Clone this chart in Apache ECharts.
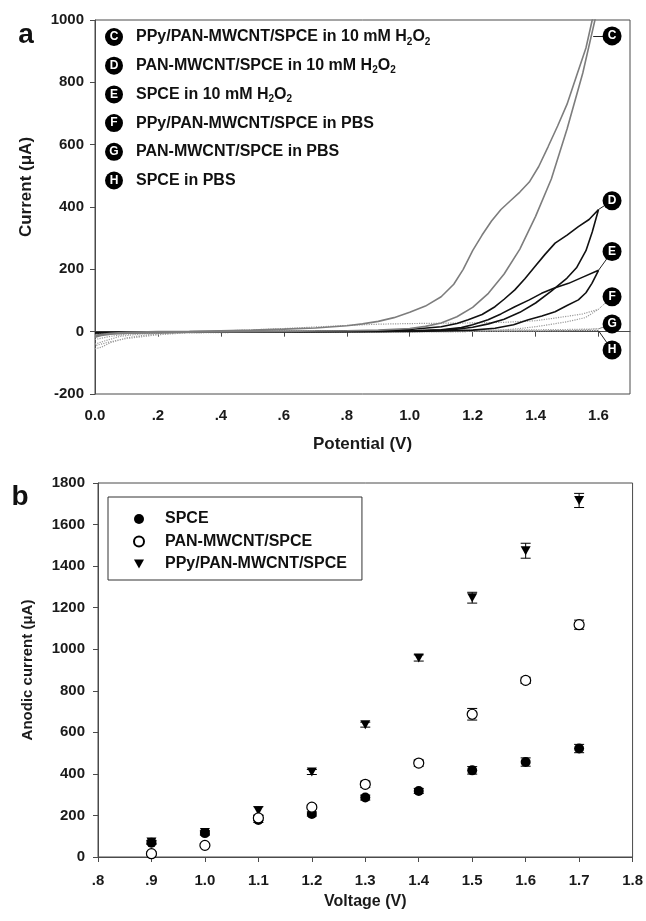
<!DOCTYPE html>
<html><head><meta charset="utf-8">
<script src="https://cdn.jsdelivr.net/npm/echarts@6/dist/echarts.min.js"></script>
<style>html,body{margin:0;padding:0;background:#fff}#c{width:646px;height:921px}</style>
</head><body><div id="c"></div>
<script>
// ---------- Panel a: cyclic voltammograms, [potential (V), current (uA)] ----------
const cvC = [[0,-18],[0.02,-12],[0.05,-8],[0.1,-5],[0.2,-3],[0.3,-2],[0.4,-1],[0.5,0],[0.6,1],[0.7,2],[0.8,3],[0.9,5],[1.0,10],[1.05,17],[1.1,28],[1.15,48],[1.2,78],[1.25,123],[1.3,185],[1.35,265],[1.4,370],[1.45,490],[1.5,650],[1.55,830],[1.6,1050],
  [1.58,1000],[1.56,910],[1.53,820],[1.5,730],[1.47,660],[1.44,594],[1.41,530],[1.38,480],[1.35,448],[1.32,420],[1.29,392],[1.26,355],[1.23,310],[1.2,260],[1.17,200],[1.14,152],[1.1,112],[1.05,82],[1.0,62],[0.95,45],[0.9,33],[0.85,25],[0.8,19],[0.7,12],[0.6,8],[0.5,5],[0.4,3],[0.3,1],[0.2,0],[0.1,-2],[0.05,-5],[0,-12]];
const cvD = [[0,-4],[0.1,-2],[0.3,-1],[0.6,0],[0.9,1],[1.0,2],[1.1,5],[1.15,8],[1.2,14],[1.25,25],[1.3,40],[1.35,62],[1.4,92],[1.45,130],[1.5,172],[1.53,205],[1.56,260],[1.58,320],[1.6,392],
  [1.57,360],[1.536,337],[1.5,310],[1.462,284],[1.43,248],[1.398,209],[1.366,170],[1.334,134],[1.3,104],[1.271,80],[1.23,55],[1.186,38],[1.15,26],[1.1,16],[1.0,7],[0.9,3],[0.7,1],[0.4,0],[0.1,-2],[0,-4]];
const cvE = [[0,-3],[0.4,-1],[0.8,0],[1.0,1],[1.1,2],[1.2,5],[1.271,11],[1.33,22],[1.377,38],[1.42,50],[1.462,64],[1.5,84],[1.536,102],[1.56,125],[1.579,155],[1.6,197],
  [1.55,175],[1.505,155],[1.46,140],[1.419,123],[1.38,102],[1.334,80],[1.29,57],[1.249,38],[1.2,22],[1.164,13],[1.1,6],[1.0,2],[0.8,0],[0.4,-1],[0,-3]];
const cvF = [[0,-55],[0.02,-50],[0.05,-35],[0.1,-20],[0.15,-12],[0.2,-7],[0.3,-4],[0.5,-2],[0.8,-1],[1.0,0],[1.1,1],[1.2,2],[1.29,5],[1.35,10],[1.4,16],[1.44,22],[1.5,32],[1.558,45],[1.6,72],
  [1.55,57],[1.505,50],[1.45,42],[1.398,35],[1.3,30],[1.2,28],[1.1,27],[1.0,26],[0.9,24],[0.8,20],[0.7,15],[0.6,10],[0.5,6],[0.4,2],[0.3,-3],[0.2,-10],[0.1,-22],[0.05,-32],[0,-45]];
const cvG = [[0,-40],[0.03,-30],[0.08,-15],[0.15,-7],[0.3,-3],[0.6,-1],[1.0,0],[1.3,1],[1.5,3],[1.6,9],
  [1.5,7],[1.3,5],[1.0,4],[0.7,3],[0.4,1],[0.2,-3],[0.1,-8],[0.05,-15],[0,-25]];
const cvH = [[0,-8],[0.05,-4],[0.2,-2],[0.6,-1],[1.0,0],[1.4,1],[1.6,3],
  [1.2,1],[0.8,0],[0.4,-1],[0.1,-3],[0,-6]];
const tagLetters = ['C','D','E','F','G','H'];
const tagX = 1.643;
const tagY = [949, 420, 257, 112, 25, -59];
const tagFrom = [[1.583,949],[1.6,392],[1.6,197],[1.6,72],[1.6,9],[1.6,3]];
const legendA = [
  '{t|PPy/PAN-MWCNT/SPCE in 10 mM H}{s|2}{t|O}{s|2}',
  '{t|PAN-MWCNT/SPCE in 10 mM H}{s|2}{t|O}{s|2}',
  '{t|SPCE in 10 mM H}{s|2}{t|O}{s|2}',
  '{t|PPy/PAN-MWCNT/SPCE in PBS}',
  '{t|PAN-MWCNT/SPCE in PBS}',
  '{t|SPCE in PBS}'
];
const ticksA = [0,0.2,0.4,0.6,0.8,1.0,1.2,1.4,1.6];

// ---------- Panel b: anodic current vs voltage ----------
const voltages = [0.9,1.0,1.1,1.2,1.3,1.4,1.5,1.6,1.7];
const spce     = [69,115,178,207,286,318,417,457,522];
const spceErr  = [8,10,12,10,12,12,18,20,20];
const pan      = [16,56,188,240,350,452,687,850,1118];
const panErr   = [8,8,12,10,15,15,28,15,22];
const ppy      = [72,118,222,409,637,958,1248,1474,1716];
const ppyErr   = [8,8,20,12,12,15,26,36,34];
const ticksB = [0.8,0.9,1.0,1.1,1.2,1.3,1.4,1.5,1.6,1.7,1.8];

const FONT = 'Liberation Sans, Arial, sans-serif';
const AX = '#4a4a4a';
function fmt(v){ if (Math.abs(v) < 1e-9) return '0.0'; let s = v.toFixed(1); if (v < 1) s = s.substring(1); return s; }
function fmtY(v){ return String(v); }
const tri = 'path://M0,0L10,0L5,9Z';

function errRender(params, api){
  const x = api.value(0), y = api.value(1), e = api.value(2);
  const t = api.coord([x, y + e]), b = api.coord([x, y - e]);
  const hw = 5, st = {stroke:'#000', lineWidth:1};
  return {type:'group', children:[
    {type:'line', shape:{x1:t[0],y1:t[1],x2:b[0],y2:b[1]}, style:st},
    {type:'line', shape:{x1:t[0]-hw,y1:t[1],x2:t[0]+hw,y2:t[1]}, style:st},
    {type:'line', shape:{x1:b[0]-hw,y1:b[1],x2:b[0]+hw,y2:b[1]}, style:st}
  ]};
}

const axisCommon = {
  axisLine:{lineStyle:{color:AX, width:1}},
  splitLine:{show:false},
};
const labelStyle = {color:'#1a1a1a', fontFamily:FONT, fontWeight:'bold', fontSize:15};

const chart = echarts.init(document.getElementById('c'), null, {renderer:'canvas'});

const graphicEls = [];
tagLetters.forEach((L, i) => {
  const cy = 37 + i * 28.7;
  graphicEls.push({type:'circle', shape:{cx:114, cy:cy, r:9}, style:{fill:'#000'}});
  graphicEls.push({type:'text', x:114, y:cy, style:{text:L, fill:'#fff', font:'bold 12px ' + FONT, align:'center', verticalAlign:'middle'}});
  graphicEls.push({type:'text', x:136, y:cy, style:{text:legendA[i], verticalAlign:'middle', rich:{
    t:{fontFamily:FONT, fontWeight:'bold', fontSize:16, fill:'#111', lineHeight:18},
    s:{fontFamily:FONT, fontWeight:'bold', fontSize:10, fill:'#111', padding:[10,0,0,0]}
  }}});
});
graphicEls.push({type:'text', x:26, y:187, rotation:Math.PI/2, style:{text:'Current (\u03bcA)', font:'bold 17px ' + FONT, fill:'#1a1a1a', align:'center', verticalAlign:'middle'}});
graphicEls.push({type:'text', x:26, y:35, style:{text:'a', font:'bold 28px ' + FONT, fill:'#111', align:'center', verticalAlign:'middle'}});
graphicEls.push({type:'text', x:20, y:497, style:{text:'b', font:'bold 28px ' + FONT, fill:'#111', align:'center', verticalAlign:'middle'}});

function cvSeries(name, data, color, width, type){
  return {name:name, type:'line', xAxisIndex:0, yAxisIndex:0, data:data, showSymbol:false, symbol:'none',
    lineStyle:{color:color, width:width, type:type}, clip:true, z:3, animation:false};
}

const option = {
  animation:false,
  backgroundColor:'#fff',
  grid:[
    {left:95, top:20, width:535, height:374, show:true, borderColor:AX, borderWidth:1},
    {left:98, top:483, width:535, height:374, show:true, borderColor:AX, borderWidth:1}
  ],
  xAxis:[
    Object.assign({}, axisCommon, {gridIndex:0, type:'value', min:0, max:1.7,
      axisLabel:Object.assign({}, labelStyle, {margin:14, formatter:fmt, customValues:ticksA}),
      axisTick:{length:5, lineStyle:{color:AX}, customValues:ticksA},
      name:'Potential (V)', nameLocation:'middle', nameGap:42,
      nameTextStyle:{color:'#1a1a1a', fontFamily:FONT, fontWeight:'bold', fontSize:17}}),
    Object.assign({}, axisCommon, {gridIndex:1, type:'value', min:0.8, max:1.8,
      axisLabel:Object.assign({}, labelStyle, {margin:16, formatter:fmt, customValues:ticksB}),
      axisTick:{length:5, lineStyle:{color:AX}, customValues:ticksB},
      name:'Voltage (V)', nameLocation:'middle', nameGap:37,
      nameTextStyle:{color:'#1a1a1a', fontFamily:FONT, fontWeight:'bold', fontSize:16}})
  ],
  yAxis:[
    Object.assign({}, axisCommon, {gridIndex:0, type:'value', min:-200, max:1000, interval:200,
      axisTick:{length:5, lineStyle:{color:AX}},
      axisLabel:Object.assign({}, labelStyle, {margin:11, formatter:fmtY})}),
    Object.assign({}, axisCommon, {gridIndex:1, type:'value', min:0, max:1800, interval:200,
      axisTick:{length:5, lineStyle:{color:AX}},
      axisLabel:Object.assign({}, labelStyle, {margin:13, formatter:fmtY}),
      name:'Anodic current (\u03bcA)', nameLocation:'middle', nameGap:63, nameRotate:90,
      nameTextStyle:{color:'#1a1a1a', fontFamily:FONT, fontWeight:'bold', fontSize:15}})
  ],
  legend:{
    data:['SPCE','PAN-MWCNT/SPCE','PPy/PAN-MWCNT/SPCE'],
    orient:'vertical', left:108, top:497,
    borderColor:'#333', borderWidth:1, padding:[14, 15, 8, 25],
    itemWidth:10, itemHeight:10, itemGap:6.5,
    textStyle:{color:'#111', fontFamily:FONT, fontWeight:'bold', fontSize:16, padding:[0,0,0,16], lineHeight:15},
    selectedMode:false
  },
  graphic:graphicEls,
  series:[
    cvSeries('H', cvH, '#444', 1.2, 'dotted'),
    cvSeries('G', cvG, '#9a9a9a', 1.2, 'dotted'),
    cvSeries('F', cvF, '#9a9a9a', 1.2, 'dotted'),
    cvSeries('E', cvE, '#111', 1.6, 'solid'),
    cvSeries('D', cvD, '#111', 1.6, 'solid'),
    cvSeries('C', cvC, '#7d7d7d', 1.6, 'solid'),
    {type:'scatter', xAxisIndex:0, yAxisIndex:0, symbol:'circle', symbolSize:19, z:5,
      itemStyle:{color:'#000', opacity:1},
      label:{show:true, position:'inside', formatter:p => p.name, color:'#fff', fontFamily:FONT, fontWeight:'bold', fontSize:12},
      data:tagLetters.map((L,i) => ({name:L, value:[tagX, tagY[i]]})),
      markLine:{silent:true, symbol:'none', animation:false, label:{show:false},
        data:tagLetters.map((L,i) => [
          {coord:tagFrom[i], lineStyle:{color: (L==='F'||L==='G') ? '#888' : '#222', width:1, type:(L==='F') ? 'dotted' : 'solid'}},
          {coord:[tagX, tagY[i]]}
        ])}
    },
    {type:'custom', xAxisIndex:1, yAxisIndex:1, renderItem:errRender, z:2,
      data:voltages.map((v,i)=>[v, spce[i], spceErr[i]])},
    {type:'custom', xAxisIndex:1, yAxisIndex:1, renderItem:errRender, z:2,
      data:voltages.map((v,i)=>[v, pan[i], panErr[i]])},
    {type:'custom', xAxisIndex:1, yAxisIndex:1, renderItem:errRender, z:2,
      data:voltages.map((v,i)=>[v, ppy[i], ppyErr[i]])},
    {name:'PPy/PAN-MWCNT/SPCE', type:'scatter', xAxisIndex:1, yAxisIndex:1, symbol:tri, symbolSize:[10,9], z:4,
      itemStyle:{color:'#000', opacity:1}, data:voltages.map((v,i)=>[v, ppy[i]])},
    {name:'SPCE', type:'scatter', xAxisIndex:1, yAxisIndex:1, symbol:'circle', symbolSize:10, z:5,
      itemStyle:{color:'#000', opacity:1}, data:voltages.map((v,i)=>[v, spce[i]])},
    {name:'PAN-MWCNT/SPCE', type:'scatter', xAxisIndex:1, yAxisIndex:1, symbol:'circle', symbolSize:10, z:6,
      itemStyle:{color:'#fff', borderColor:'#000', borderWidth:1.2, opacity:1}, data:voltages.map((v,i)=>[v, pan[i]])}
  ]
};
chart.setOption(option);
</script>
</body></html>
